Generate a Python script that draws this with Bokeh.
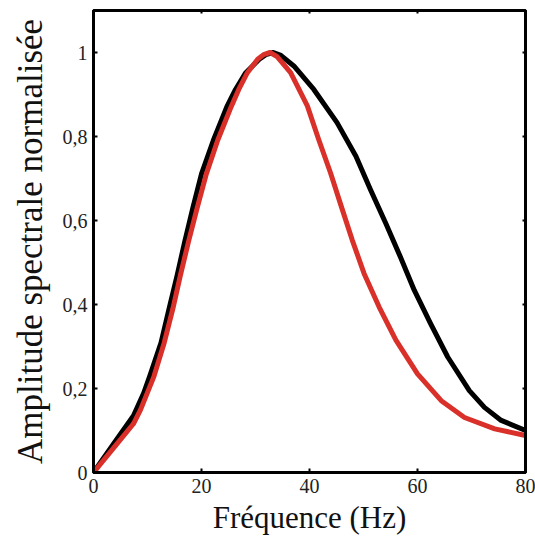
from bokeh.plotting import figure
from bokeh.models import LinearAxis, Range1d, FixedTicker, CustomJSTickFormatter
from bokeh.embed import file_html
from bokeh.resources import INLINE

x_black = [0, 3.7, 7.4, 9.3, 10.4, 12.5, 14.0, 15.5, 16.9, 18.4, 20.0, 22.2, 24.7, 26.3, 28.2, 30.7, 31.9, 33.3, 34.7,
           37.1, 40.8, 45.1, 48.6, 51.3, 54.1, 56.8, 59.4, 62.4, 65.6, 69.6, 72.4, 75.5, 80]
y_black = [0, 0.068, 0.135, 0.189, 0.229, 0.309, 0.39, 0.47, 0.55, 0.63, 0.711, 0.791, 0.871, 0.912, 0.952, 0.984, 0.995, 1.0, 0.993,
           0.968, 0.912, 0.833, 0.753, 0.673, 0.594, 0.514, 0.434, 0.355, 0.275, 0.195, 0.155, 0.124, 0.10]

x_red = [0, 3.7, 7.4, 8.7, 11.2, 13.1, 14.7, 16.1, 17.6, 19.2, 20.9, 23.0, 25.5, 26.9, 28.5, 30.4, 31.5, 32.7, 34.0,
         36.5, 39.6, 41.7, 43.9, 45.9, 47.9, 50.1, 52.9, 56.0, 60.0, 64.4, 68.7, 74.3, 80]
y_red = [0, 0.058, 0.116, 0.149, 0.229, 0.309, 0.39, 0.47, 0.55, 0.63, 0.711, 0.791, 0.871, 0.912, 0.952, 0.984, 0.995, 1.0, 0.99,
         0.952, 0.873, 0.793, 0.713, 0.633, 0.554, 0.474, 0.394, 0.315, 0.235, 0.171, 0.131, 0.104, 0.088]

x_ticks = [0, 20, 40, 60, 80]
y_ticks = [0, 0.2, 0.4, 0.6, 0.8, 1.0]
y_tick_labels = {0: "0", 0.2: "0,2", 0.4: "0,4", 0.6: "0,6", 0.8: "0,8", 1.0: "1"}

FONT = "Liberation Serif"

p = figure(width=535, height=540, output_backend="svg", toolbar_location=None,
           x_range=Range1d(0, 80), y_range=Range1d(0, 1.1),
           min_border_left=93, min_border_right=10, min_border_top=10, min_border_bottom=68)
p.background_fill_color = "white"
p.border_fill_color = "white"
p.grid.visible = False
p.outline_line_color = "black"
p.outline_line_width = 3

p.line(x_black, y_black, line_color="black", line_width=5, line_join="round")
p.line(x_red, y_red, line_color="#d9302a", line_width=5, line_join="round")

for ax in p.xaxis:
    ax.ticker = FixedTicker(ticks=x_ticks)
    ax.axis_label = "Fréquence (Hz)"
for ax in p.yaxis:
    ax.ticker = FixedTicker(ticks=y_ticks)
    ax.major_label_overrides = y_tick_labels
    ax.axis_label = "Amplitude spectrale normalisée"

for ax in p.xaxis + p.yaxis:
    ax.major_tick_in = 4
    ax.major_tick_out = 0
    ax.minor_tick_line_color = None
    ax.axis_line_width = 3
    ax.major_tick_line_width = 2
    ax.major_label_text_font = FONT
    ax.major_label_text_font_size = "20px"
    ax.major_label_text_color = "#222222"
    ax.axis_label_text_font = FONT
    ax.axis_label_text_font_style = "normal"
    ax.axis_label_text_color = "#111111"
    ax.major_label_standoff = 6

p.xaxis[0].axis_label_text_font_size = "31px"
p.yaxis[0].axis_label_text_font_size = "35px"
p.yaxis[0].axis_label_standoff = 10
p.xaxis[0].axis_label_standoff = 4

blank = CustomJSTickFormatter(code="return ''")
top = LinearAxis(ticker=FixedTicker(ticks=x_ticks), formatter=blank,
                 major_tick_in=3, major_tick_out=0, minor_tick_line_color=None,
                 axis_line_width=3, major_tick_line_width=2, major_label_standoff=0)
right = LinearAxis(ticker=FixedTicker(ticks=y_ticks), formatter=blank,
                   major_tick_in=3, major_tick_out=0, minor_tick_line_color=None,
                   axis_line_width=3, major_tick_line_width=2, major_label_standoff=0)
p.add_layout(top, "above")
p.add_layout(right, "right")

open("out.html", "w").write(file_html(p, INLINE))
